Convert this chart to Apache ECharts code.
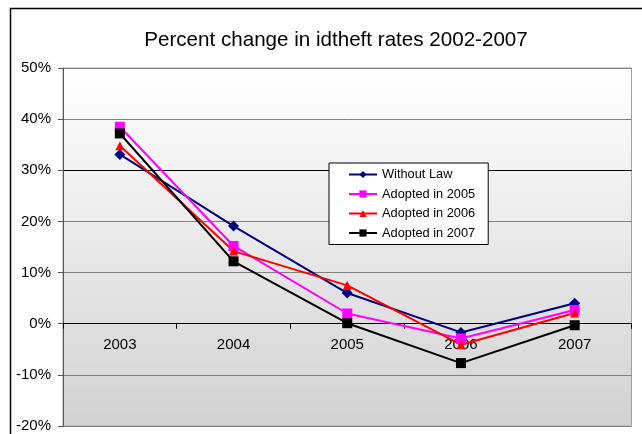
<!DOCTYPE html>
<html>
<head>
<meta charset="utf-8">
<script src="https://cdn.jsdelivr.net/npm/echarts@6/dist/echarts.min.js"></script>
<style>
  html, body { margin: 0; padding: 0; background: #ffffff; }
  #chart { width: 642px; height: 434px; }
</style>
</head>
<body>
<div id="chart"></div>
<script>
// Percent change in identity-theft rates, by year and law adoption group
var years = ['2003', '2004', '2005', '2006', '2007'];
var withoutLaw = [33.1, 19.1, 6.0, -1.7, 4.0];
var adopted2005 = [38.5, 15.2, 2.0, -2.9, 2.7];
var adopted2006 = [34.8, 14.2, 7.5, -4.1, 2.1];
var adopted2007 = [37.2, 12.2, 0.1, -7.7, -0.3];
var seriesNames = ['Without Law', 'Adopted in 2005', 'Adopted in 2006', 'Adopted in 2007'];
var yMin = -20, yMax = 50, yStep = 10;

var chart = echarts.init(document.getElementById('chart'), null, { renderer: 'canvas' });

function lineSeries(name, data, color, symbol, size) {
  return {
    name: name,
    type: 'line',
    data: data,
    symbol: symbol,
    symbolSize: size,
    showSymbol: true,
    animation: false,
    lineStyle: { color: color, width: 2 },
    itemStyle: { color: color, borderWidth: 0 }
  };
}

chart.setOption({
  animation: false,
  backgroundColor: '#ffffff',
  textStyle: { fontFamily: 'Liberation Sans, Arial, sans-serif' },
  graphic: [{
    type: 'rect',
    shape: { x: 10.5, y: 8.5, width: 700, height: 500 },
    style: { fill: 'none', stroke: '#000000', lineWidth: 1.5 },
    z: -10
  }],
  title: {
    text: 'Percent change in idtheft rates 2002-2007',
    left: 331,
    top: 25,
    textAlign: 'center',
    textStyle: { fontSize: 20.6, fontWeight: 'normal', color: '#000000', fontFamily: 'Liberation Sans, Arial, sans-serif' }
  },
  legend: {
    orient: 'vertical',
    left: 329,
    top: 163,
    padding: [5, 13, 5, 19],
    itemGap: 6.5,
    itemWidth: 28,
    itemHeight: 9,
    backgroundColor: '#ffffff',
    borderColor: '#000000',
    borderWidth: 1,
    textStyle: { fontSize: 12.8, color: '#000000', fontFamily: 'Liberation Sans, Arial, sans-serif' },
    data: seriesNames
  },
  grid: {
    left: 63, right: 10.5, top: 68, bottom: 8,
    outerBoundsMode: 'none',
    containLabel: false,
    show: true,
    borderColor: '#a0a0a0',
    borderWidth: 1,
    backgroundColor: new echarts.graphic.LinearGradient(0, 0, 0, 1, [
      { offset: 0, color: '#ffffff' },
      { offset: 1, color: '#d2d2d2' }
    ])
  },
  xAxis: {
    type: 'category',
    data: years,
    boundaryGap: true,
    position: 'bottom',
    offset: 0,
    axisLine: { onZero: false, lineStyle: { color: '#000000', width: 1 } },
    axisTick: { show: true, inside: false, length: 5, lineStyle: { color: '#000000' } },
    axisLabel: { margin: 14, fontSize: 15, color: '#000000', fontFamily: 'Liberation Sans, Arial, sans-serif' },
    splitLine: { show: false }
  },
  yAxis: {
    type: 'value',
    min: yMin,
    max: yMax,
    interval: yStep,
    axisLine: { show: true, lineStyle: { color: '#555555', width: 1 } },
    axisTick: { show: true, inside: false, length: 5, lineStyle: { color: '#555555' } },
    axisLabel: {
      margin: 12, fontSize: 15, color: '#000000',
      fontFamily: 'Liberation Sans, Arial, sans-serif',
      formatter: function (v) { return v + '%'; }
    },
    splitLine: {
      show: true,
      lineStyle: {
        color: ['#808080', '#808080', '#000000', '#808080', '#808080', '#000000', '#808080', '#808080'],
        width: 1
      }
    }
  },
  series: [
    lineSeries(seriesNames[0], withoutLaw, '#000080', 'diamond', 11),
    lineSeries(seriesNames[1], adopted2005, '#ff00ff', 'rect', 10),
    lineSeries(seriesNames[2], adopted2006, '#ff0000', 'triangle', 9),
    lineSeries(seriesNames[3], adopted2007, '#000000', 'rect', 10)
  ]
});

// Lift the category axis (line, ticks and labels) up to the 0% level
var zeroY = chart.convertToPixel({ yAxisIndex: 0 }, 0);
var bottomY = chart.convertToPixel({ yAxisIndex: 0 }, yMin);
chart.setOption({ xAxis: { offset: zeroY - bottomY } });
</script>
</body>
</html>
